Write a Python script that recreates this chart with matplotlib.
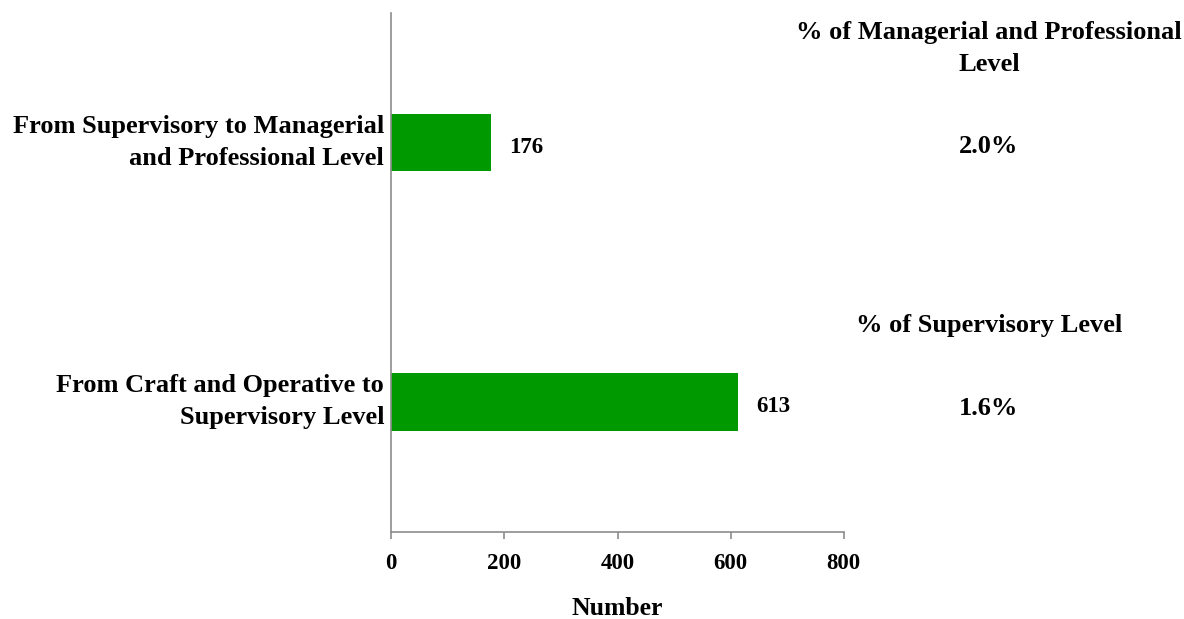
import matplotlib
matplotlib.use("Agg")
import matplotlib.pyplot as plt
from matplotlib.transforms import blended_transform_factory, ScaledTranslation

# Data
categories = ["From Craft and Operative to\nSupervisory Level",
              "From Supervisory to Managerial\nand Professional Level"]
counts = [613, 176]
share_headers = ["% of Supervisory Level",
                 "% of Managerial and Professional\nLevel"]
share_values = ["1.6%", "2.0%"]
x_ticks = [0, 200, 400, 600, 800]

plt.rcParams["font.family"] = ["Liberation Serif", "DejaVu Serif"]
plt.rcParams["font.weight"] = "bold"

W, H = 1184, 619
DPI = 100
fig = plt.figure(figsize=(W / DPI, H / DPI), dpi=DPI)
ax = fig.add_axes([391.3 / W, 1 - 531.7 / H, (843.7 - 391.3) / W, (531.7 - 13) / H])

bar_color = "#009900"
axis_color = "#8c8c8c"
ypos = list(range(len(categories)))
ax.barh(ypos, counts, height=0.22, color=bar_color)

ax.set_xlim(0, 800)
ax.set_ylim(-0.5, 1.5)
ax.set_xticks(x_ticks)
ax.set_xticklabels([str(t) for t in x_ticks], fontsize=16.5, fontweight="bold")
ax.set_yticks(ypos)
ax.set_yticklabels([])
ax.tick_params(axis="y", length=0)
ax.tick_params(axis="x", length=5, width=1.2, color=axis_color, pad=10)

for side in ["top", "right"]:
    ax.spines[side].set_visible(False)
for side in ["left", "bottom"]:
    ax.spines[side].set_color(axis_color)
    ax.spines[side].set_linewidth(1.2)

ax.set_xlabel("Number", fontsize=18.5, fontweight="bold", labelpad=17)


def shift(dy_px):
    """Downward offset in pixels."""
    return ScaledTranslation(0, -dy_px / DPI, fig.dpi_scale_trans)


def lines_at(text, transform, x, y, step_px, **kw):
    for i, line in enumerate(text.split("\n")):
        ax.text(x, y, line, transform=transform + shift(i * step_px),
                va="baseline", clip_on=False, **kw)


# Category labels, right-aligned to the left of the axis
cat_tr = blended_transform_factory(fig.transFigure, ax.transData)
for y, lab in zip(ypos, categories):
    lines_at(lab, cat_tr + shift(-10), 384 / W, y, 32.3,
             ha="right", fontsize=19, fontweight="bold")

# Value labels next to bars
for y, v in zip(ypos, counts):
    ax.text(v + 32, y, str(v), transform=ax.transData + shift(10),
            va="baseline", ha="left", fontsize=16.5, fontweight="bold")

# Share annotations to the right of the plot
xc = 989 / W
head_base = [332, 39]
val_base = [415, 153]
for head, val, hb, vb in zip(share_headers, share_values, head_base, val_base):
    lines_at(head, fig.transFigure, xc, 1 - hb / H, 32.3,
             ha="center", fontsize=19, fontweight="bold")
    fig.text(xc, 1 - vb / H, val, ha="center", va="baseline",
             fontsize=19, fontweight="bold")

fig.savefig("out.png", dpi=DPI)
